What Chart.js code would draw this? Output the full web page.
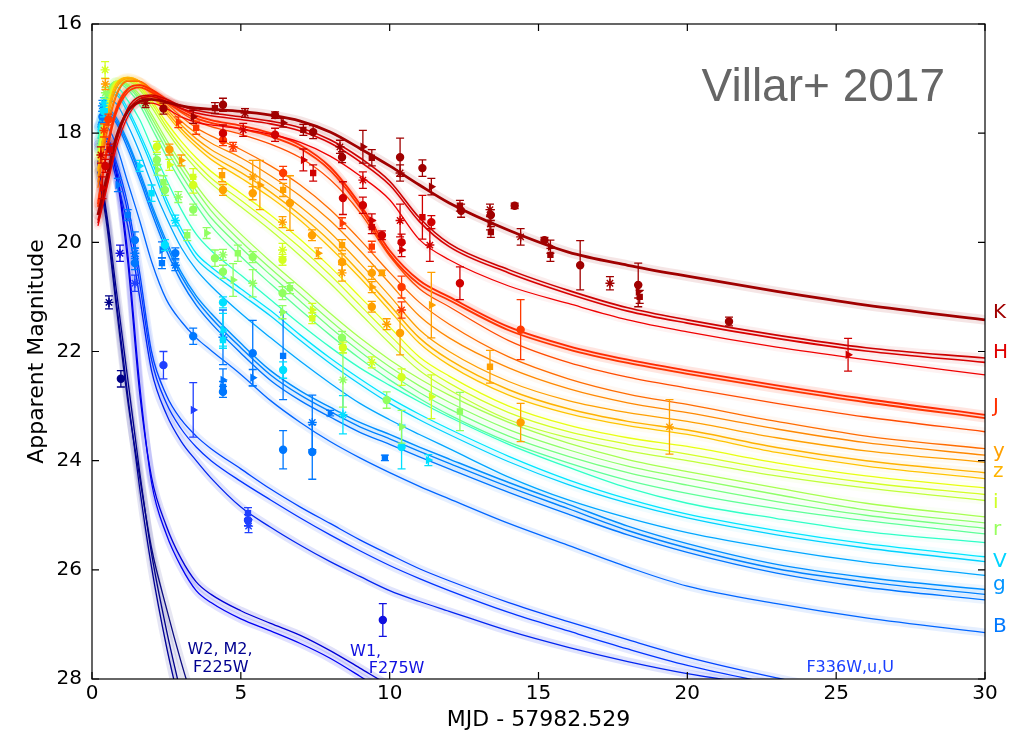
<!DOCTYPE html>
<html><head><meta charset="utf-8">
<script src="https://cdn.jsdelivr.net/npm/chart.js@4.4.1/dist/chart.umd.min.js"></script>
<style>html,body{margin:0;padding:0;background:#fff}canvas{display:block}</style>
</head><body>
<canvas id="c" width="1018" height="736"></canvas>
<script>
// ---- model curve sample times (days) ----
const X = [0.2,0.5,0.8,1.2,1.6,2.0,2.5,3,3.5,4,5,6,7,8,9,10,11,12,14,16,18,20,23,26,30];
// ---- model magnitudes ----
const K   = [19.5,18.8,18.1,17.6,17.42,17.38,17.43,17.5,17.54,17.56,17.6,17.67,17.78,17.98,18.28,18.6,18.95,19.28,19.78,20.18,20.42,20.62,20.9,21.15,21.42];
const H_a = [19.6,18.9,18.15,17.55,17.33,17.3,17.38,17.5,17.58,17.63,17.7,17.78,17.9,18.12,18.45,18.88,19.55,20.02,20.5,20.88,21.2,21.42,21.7,21.93,22.12];
const H_b = [19.65,18.95,18.2,17.6,17.37,17.33,17.42,17.55,17.63,17.68,17.75,17.83,17.96,18.18,18.52,18.95,19.62,20.08,20.56,20.94,21.26,21.48,21.76,21.99,22.2];
const H_c = [19.7,19.0,18.3,17.7,17.45,17.45,17.55,17.7,17.8,17.85,17.92,18.02,18.17,18.42,18.78,19.22,19.95,20.32,20.8,21.12,21.42,21.64,21.92,22.15,22.43];
const J_a = [19.3,18.3,17.6,17.2,17.12,17.2,17.38,17.55,17.68,17.76,17.86,18.0,18.22,18.62,19.3,20.15,20.7,21.0,21.55,21.9,22.15,22.35,22.62,22.87,23.16];
const J_b = [19.35,18.35,17.65,17.25,17.16,17.25,17.43,17.6,17.73,17.81,17.92,18.06,18.28,18.68,19.36,20.22,20.77,21.06,21.61,21.96,22.21,22.41,22.68,22.93,23.22];
const J_c = [19.25,18.25,17.55,17.18,17.12,17.22,17.42,17.62,17.78,17.88,18.02,18.2,18.45,18.85,19.45,20.25,20.85,21.18,21.8,22.2,22.47,22.67,22.95,23.2,23.47];
const O1  = [19.0,18.0,17.35,17.05,17.05,17.2,17.45,17.7,17.9,18.05,18.3,18.6,18.95,19.4,19.95,20.55,21.1,21.5,22.1,22.5,22.78,22.97,23.28,23.55,23.78];
const O2  = [18.9,17.9,17.3,17.03,17.05,17.22,17.5,17.78,18.0,18.18,18.45,18.78,19.15,19.6,20.15,20.75,21.35,21.75,22.3,22.68,22.94,23.12,23.42,23.67,23.9];
const O3  = [18.8,17.8,17.2,17.0,17.05,17.25,17.55,17.85,18.1,18.3,18.6,18.95,19.35,19.82,20.38,20.98,21.6,22.0,22.55,22.9,23.12,23.28,23.58,23.82,24.03];
const O4  = [18.7,17.7,17.15,16.98,17.05,17.28,17.6,17.92,18.18,18.4,18.72,19.08,19.5,19.98,20.55,21.15,21.75,22.15,22.7,23.05,23.28,23.44,23.76,24.0,24.22];
const O5  = [18.65,17.65,17.1,16.98,17.06,17.3,17.65,17.98,18.25,18.48,18.82,19.18,19.6,20.1,20.65,21.25,21.85,22.25,22.8,23.14,23.36,23.52,23.85,24.1,24.33];
const Y1  = [18.5,17.55,17.08,17.0,17.12,17.4,17.8,18.15,18.45,18.7,19.1,19.5,19.95,20.45,21.0,21.55,22.1,22.45,23.0,23.35,23.58,23.74,24.04,24.28,24.5];
const Y2  = [18.45,17.5,17.06,17.02,17.16,17.45,17.88,18.25,18.55,18.82,19.23,19.65,20.1,20.6,21.15,21.7,22.22,22.58,23.12,23.47,23.7,23.88,24.17,24.4,24.62];
const Y3  = [18.4,17.45,17.05,17.05,17.2,17.52,17.95,18.33,18.65,18.92,19.35,19.78,20.25,20.75,21.3,21.85,22.35,22.7,23.25,23.58,23.82,24.0,24.28,24.5,24.73];
const G1  = [18.4,17.4,17.05,17.1,17.3,17.65,18.12,18.55,18.95,19.3,19.85,20.35,20.82,21.3,21.75,22.15,22.5,22.8,23.3,23.68,23.98,24.2,24.5,24.78,25.03];
const G2  = [18.35,17.35,17.05,17.12,17.35,17.72,18.2,18.65,19.05,19.42,19.98,20.48,20.95,21.43,21.88,22.28,22.63,22.93,23.43,23.8,24.1,24.32,24.62,24.9,25.14];
const G3  = [18.3,17.3,17.05,17.15,17.4,17.8,18.3,18.76,19.18,19.55,20.1,20.6,21.08,21.56,22.0,22.4,22.75,23.05,23.55,23.92,24.22,24.45,24.75,25.0,25.24];
const G4  = [18.25,17.28,17.06,17.2,17.48,17.9,18.42,18.9,19.32,19.7,20.26,20.76,21.24,21.7,22.13,22.52,22.86,23.16,23.66,24.04,24.36,24.6,24.88,25.1,25.34];
const T1  = [18.1,17.3,17.15,17.4,17.75,18.25,18.85,19.4,19.85,20.15,20.6,21.05,21.5,21.92,22.3,22.62,22.92,23.2,23.7,24.12,24.5,24.78,25.06,25.3,25.5];
const C1  = [18.0,17.28,17.25,17.55,18.0,18.5,19.2,19.75,20.2,20.45,20.85,21.25,21.7,22.12,22.5,22.85,23.15,23.42,23.92,24.35,24.7,24.98,25.28,25.52,25.76];
const C2  = [17.95,17.3,17.3,17.62,18.08,18.6,19.3,19.85,20.3,20.55,20.95,21.35,21.8,22.22,22.6,22.95,23.25,23.52,24.02,24.44,24.78,25.05,25.36,25.6,25.85];
const Bl1 = [17.9,17.4,17.45,17.85,18.35,18.92,19.55,20.1,20.5,20.8,21.3,21.75,22.18,22.58,22.95,23.25,23.52,23.78,24.3,24.72,25.05,25.32,25.62,25.86,26.1];
const Bl2 = [17.85,17.55,17.7,18.15,18.7,19.3,19.98,20.55,20.98,21.3,21.85,22.35,22.72,23.02,23.3,23.52,23.75,23.97,24.4,24.8,25.2,25.52,25.9,26.14,26.36];
const Bl3 = [17.88,17.6,17.75,18.2,18.76,19.36,20.05,20.62,21.05,21.38,21.93,22.43,22.8,23.1,23.38,23.6,23.83,24.05,24.48,24.88,25.28,25.6,25.98,26.22,26.45];
const Bl4 = [17.9,17.65,17.8,18.28,18.84,19.45,20.15,20.72,21.15,21.48,22.03,22.53,22.9,23.2,23.48,23.7,23.93,24.15,24.58,24.98,25.36,25.68,26.06,26.32,26.55];
const Bm  = [18.1,17.9,18.2,18.9,19.6,20.35,21.05,21.45,21.75,21.98,22.42,22.9,23.3,23.65,23.95,24.22,24.47,24.7,25.15,25.55,25.95,26.3,26.62,26.88,27.15];
const U1  = [18.15,18.1,18.5,19.3,20.55,22.0,22.8,23.25,23.55,23.78,24.15,24.52,24.85,25.15,25.45,25.72,25.98,26.2,26.6,26.95,27.28,27.6,27.98,28.3,28.7];
const U2  = [18.2,18.15,18.6,19.45,20.75,22.15,22.95,23.42,23.75,24.0,24.38,24.72,25.05,25.36,25.65,25.92,26.16,26.38,26.78,27.12,27.45,27.75,28.1,28.4,28.8];
const U3  = [18.3,18.3,18.8,19.7,21.0,22.35,23.15,23.65,24.0,24.32,24.85,25.22,25.55,25.85,26.12,26.38,26.58,26.76,27.12,27.42,27.68,27.9,28.15,28.4,28.7];
const W1a = [18.2,18.1,18.6,20.2,22.6,24.4,25.35,25.95,26.38,26.6,26.9,27.12,27.35,27.62,27.95,28.3,null,null,null,null,null,null,null,null,null];
const W1b = [18.25,18.15,18.7,20.35,22.75,24.3,25.2,25.8,26.22,26.45,26.75,26.98,27.2,27.48,27.8,28.12,28.4,null,null,null,null,null,null,null,null];
const W2a = [18.5,19.5,20.8,22.5,24.2,25.7,27.1,28.3,null,null,null,null,null,null,null,null,null,null,null,null,null,null,null,null,null];
const W2b = [18.55,19.6,21.0,22.8,24.5,25.95,27.4,28.6,null,null,null,null,null,null,null,null,null,null,null,null,null,null,null,null,null];
const W2c = [18.7,19.7,21.1,22.9,24.3,25.6,26.7,27.7,28.6,null,null,null,null,null,null,null,null,null,null,null,null,null,null,null,null];

// ---- photometry [day, mag, error] ----
const ptsK = [[1.8,17.45,0.08],[2.4,17.55,0.1],[3.4,17.7,0.12],[4.13,17.54,0.1],[4.4,17.48,0.12],[5.14,17.63,0.08],[6.15,17.67,0.06],[6.42,17.81,0.08],[7.1,17.94,0.1],[7.43,17.98,0.12],[8.33,18.25,0.12],[8.4,18.44,0.1],[9.1,18.25,0.3],[9.4,18.45,0.15],[10.35,18.44,0.35],[10.35,18.73,0.15],[11.1,18.64,0.15],[11.4,18.98,0.15],[12.36,19.33,0.1],[12.4,19.42,0.12],[13.37,19.4,0.1],[13.4,19.5,0.1],[13.37,19.65,0.12],[13.4,19.81,0.1],[14.2,19.33,0.05],[14.4,19.9,0.15],[15.2,19.96,0.05],[15.4,20.08,0.12],[15.4,20.23,0.12],[16.4,20.42,0.45],[17.4,20.75,0.12],[18.35,20.78,0.4],[18.35,20.9,0.12],[18.4,21.0,0.12],[21.4,21.45,0.08]];
const ptsH = [[0.3,18.4,0.15],[0.45,18.6,0.12],[0.35,19.0,0.2],[0.6,18.3,0.1],[4.4,18.0,0.15],[5.08,17.94,0.12],[6.15,18.03,0.12],[7.1,18.49,0.2],[7.43,18.73,0.15],[8.43,19.19,0.3],[9.1,18.86,0.15],[9.1,19.32,0.15],[9.4,19.6,0.12],[9.4,19.72,0.12],[9.74,19.87,0.08],[10.35,19.6,0.3],[10.4,20.0,0.15],[10.4,20.14,0.12],[11.1,19.54,0.4],[11.4,19.63,0.12],[11.35,20.05,0.3],[12.36,20.75,0.3],[25.4,22.06,0.3]];
const ptsJ = [[0.4,17.95,0.12],[0.55,17.75,0.1],[2.9,17.8,0.1],[3.5,17.9,0.12],[4.4,18.13,0.1],[4.74,18.25,0.08],[6.42,18.73,0.12],[8.4,19.65,0.1],[9.4,20.08,0.1],[10.4,20.82,0.2],[10.4,21.24,0.15],[14.4,21.6,0.55]];
const ptsO = [[0.45,17.1,0.1],[2.6,18.3,0.1],[3.0,18.5,0.1],[4.37,18.77,0.12],[4.4,19.04,0.1],[5.4,18.8,0.3],[5.4,19.1,0.12],[5.64,18.95,0.45],[6.42,19.04,0.12],[6.65,19.28,0.5],[6.4,19.63,0.1],[7.39,19.87,0.1],[7.6,20.2,0.1],[8.4,20.05,0.1],[8.4,20.36,0.15],[8.4,20.56,0.15],[9.4,20.56,0.12],[9.4,20.82,0.1],[9.74,20.56,0.05],[9.4,21.18,0.1],[9.9,21.5,0.1],[10.35,21.66,0.4],[11.4,21.15,0.6],[13.37,22.28,0.3],[14.4,23.3,0.35],[19.4,23.38,0.5]];
const ptsY = [[0.44,16.84,0.15],[2.18,18.25,0.1],[2.6,18.58,0.1],[3.4,18.8,0.15],[3.4,18.95,0.15],[6.4,20.14,0.12],[6.4,20.32,0.1],[7.4,21.24,0.12],[7.4,21.39,0.1],[8.43,21.93,0.1],[9.4,22.2,0.1],[10.4,22.47,0.15],[11.4,22.83,0.4]];
const ptsG = [[0.45,17.26,0.1],[2.18,18.49,0.1],[2.2,18.67,0.1],[2.4,18.9,0.12],[2.45,19.04,0.1],[2.9,19.17,0.1],[3.4,19.4,0.1],[3.85,19.83,0.1],[3.2,19.87,0.1],[4.13,20.29,0.15],[4.4,20.23,0.1],[4.4,20.54,0.12],[4.74,20.69,0.3],[4.9,20.2,0.15],[5.4,20.27,0.1],[5.4,20.75,0.25],[6.4,20.93,0.12],[6.4,21.28,0.12],[6.65,20.84,0.1],[8.4,21.75,0.12],[8.43,22.52,0.5],[9.9,22.89,0.15],[10.4,23.38,0.3],[12.36,23.1,0.35]];
const ptsC = [[0.4,17.45,0.1],[0.4,17.6,0.1],[1.6,18.6,0.1],[2.0,19.1,0.15],[2.45,20.05,0.1],[2.8,19.6,0.1],[4.4,21.1,0.1],[4.4,21.6,0.3],[4.4,21.79,0.15],[6.42,22.34,0.15],[8.43,23.16,0.35],[10.4,23.75,0.4],[11.3,23.99,0.1]];
const ptsBl = [[0.35,17.5,0.1],[0.35,17.7,0.1],[0.87,18.95,0.12],[1.2,19.5,0.1],[1.44,19.96,0.15],[1.44,20.2,0.1],[1.44,20.38,0.12],[2.35,20.14,0.15],[2.35,20.38,0.1],[2.8,20.2,0.1],[2.8,20.42,0.1],[3.4,21.72,0.15],[4.4,22.52,0.2],[4.4,22.65,0.1],[4.4,22.74,0.1],[4.4,21.74,0.5],[5.4,22.03,0.6],[5.4,22.48,0.15],[6.42,22.08,0.8],[6.42,23.8,0.35],[7.4,23.3,0.5],[7.4,23.84,0.5],[8.0,23.13,0.05],[9.84,23.95,0.05]];
const ptsU = [[1.44,20.75,0.15],[2.4,22.25,0.25],[3.4,23.07,0.5],[5.24,24.96,0.1],[5.24,25.09,0.1],[5.26,25.2,0.12]];
const ptsW1 = [[0.94,20.2,0.15],[9.77,26.92,0.3]];
const ptsW2 = [[0.57,21.1,0.12],[0.97,22.5,0.15]];

// ---- texts ----
const bandNames = ['K','H','J','y','z','i','r','V','g','B'];
const bandMags  = [21.29,22.03,23.02,23.84,24.2,24.77,25.27,25.86,26.28,27.05];
const bandColors = ['#a00000','#e00000','#ff3000','#ffa000','#ffb400','#d0ff28','#98ff5e','#00d4ff','#0094ff','#0078ff'];
const uvTexts = [['W2, M2,',4.3,27.47,'#000090','center'],['F225W',4.33,27.8,'#000090','center'],['W1,',8.67,27.5,'#1010e0','left'],['F275W',9.3,27.82,'#1010e0','left'],['F336W,u,U',24.0,27.8,'#1a40ff','left']];

const curveTable = [
 [K,'#a00000',2.8,0.10],[H_a,'#cc0000',1.6,0.07],[H_b,'#d80000',1.6,0.07],[H_c,'#f00000',1.3,0.05],
 [J_a,'#ff2a00',1.8,0.12],[J_b,'#ff3400',1.8,0.12],[J_c,'#ff4c00',1.3,0.05],
 [O1,'#ff6c00',1.3,0.05],[O2,'#ff8800',1.3,0.05],[O3,'#ffa000',1.3,0.05],[O4,'#ffb200',1.5,0.08],[O5,'#ffc400',1.3,0.05],
 [Y1,'#e8ff10',1.3,0.06],[Y2,'#d4ff24',1.3,0.06],[Y3,'#c0ff38',1.3,0.06],
 [G1,'#a6ff50',1.3,0.05],[G2,'#8eff68',1.3,0.05],[G3,'#76ff80',1.3,0.05],[G4,'#5eff98',1.3,0.05],
 [T1,'#30ffc6',1.3,0.05],[C1,'#00e6ff',1.3,0.06],[C2,'#00d2ff',1.3,0.06],
 [Bl1,'#00a6ff',1.3,0.06],[Bl2,'#008eff',1.4,0.08],[Bl3,'#0082ff',1.4,0.08],[Bl4,'#0076ff',1.4,0.08],[Bm,'#0066ff',1.3,0.10],
 [U1,'#0044ff',1.3,0.10],[U2,'#0034ff',1.3,0.10],[U3,'#0024f0',1.3,0.12],
 [W1a,'#0000f4',1.3,0.12],[W1b,'#0000d8',1.3,0.12],
 [W2a,'#00008a',1.3,0.10],[W2b,'#000096',1.3,0.10],[W2c,'#0a0a80',1.3,0.10]
];
const pointTable = [[ptsK,'#a00000'],[ptsH,'#d00000'],[ptsJ,'#ff3a00'],[ptsO,'#ffa000'],[ptsY,'#d4ff20'],[ptsG,'#90ff60'],[ptsC,'#00e0ff'],[ptsBl,'#0078ff'],[ptsU,'#2040ff'],[ptsW1,'#1010e0'],[ptsW2,'#000088']];

function rgba(hex,a){const n=parseInt(hex.slice(1),16);return `rgba(${n>>16&255},${n>>8&255},${n&255},${a})`;}
function toXY(vals){const out=[];vals.forEach((v,i)=>{if(v!==null)out.push({x:X[i],y:v});});return out;}

const datasets=[];
curveTable.forEach(([vals,col,w,ba])=>{
  datasets.push({type:'line',data:toXY(vals),borderColor:rgba(col,ba),borderWidth:w+7,pointRadius:0,fill:false,cubicInterpolationMode:'monotone',order:20,borderCapStyle:'round',borderJoinStyle:'round'});
  datasets.push({type:'line',data:toXY(vals),borderColor:col,borderWidth:w,pointRadius:0,fill:false,cubicInterpolationMode:'monotone',order:10,borderJoinStyle:'round'});
});
const SHAPES=['star','circle','triangle','rect','circle'];
pointTable.forEach(([arr,col])=>{
  datasets.push({type:'scatter',data:arr.map(p=>({x:p[0],y:p[1]})),errs:arr.map(p=>p[2]),
    backgroundColor:col,borderColor:col,pointBorderWidth:1.4,
    pointRadius:c=>SHAPES[c.dataIndex%SHAPES.length]==='star'?4.5:3.5,
    pointStyle:c=>SHAPES[c.dataIndex%SHAPES.length],
    pointRotation:c=>SHAPES[c.dataIndex%SHAPES.length]==='triangle'?90:0,
    showLine:false,order:0});
});

const errPlugin={id:'err',beforeDatasetDraw(chart,args){
  const ds=chart.data.datasets[args.index]; if(!ds.errs)return;
  const {ctx,scales:{x,y},chartArea:a}=chart;
  ctx.save();ctx.beginPath();ctx.rect(a.left,a.top,a.right-a.left,a.bottom-a.top);ctx.clip();
  ctx.strokeStyle=ds.borderColor;ctx.lineWidth=1.3;
  ds.data.forEach((p,i)=>{const px=x.getPixelForValue(p.x),y1=y.getPixelForValue(p.y-ds.errs[i]),y2=y.getPixelForValue(p.y+ds.errs[i]);
    ctx.beginPath();ctx.moveTo(px,y1);ctx.lineTo(px,y2);ctx.moveTo(px-4,y1);ctx.lineTo(px+4,y1);ctx.moveTo(px-4,y2);ctx.lineTo(px+4,y2);ctx.stroke();});
  ctx.restore();}};

const framePlugin={id:'frame',afterDraw(chart){
  const {ctx,scales:{x,y},chartArea:a}=chart;
  ctx.save();ctx.strokeStyle='#000';ctx.lineWidth=1.2;
  ctx.strokeRect(a.left,a.top,a.right-a.left,a.bottom-a.top);
  ctx.beginPath();
  x.ticks.forEach(t=>{const px=x.getPixelForValue(t.value);ctx.moveTo(px,a.bottom);ctx.lineTo(px,a.bottom-7);ctx.moveTo(px,a.top);ctx.lineTo(px,a.top+7);});
  y.ticks.forEach(t=>{const py=y.getPixelForValue(t.value);ctx.moveTo(a.left,py);ctx.lineTo(a.left+7,py);ctx.moveTo(a.right,py);ctx.lineTo(a.right-7,py);});
  ctx.stroke();ctx.restore();}};

const textPlugin={id:'texts',afterDatasetsDraw(chart){
  const {ctx,scales:{x,y},chartArea:a}=chart;
  ctx.save();
  ctx.font='46px "Liberation Sans", Arial, sans-serif';ctx.fillStyle='#666666';ctx.textAlign='right';ctx.textBaseline='alphabetic';
  ctx.fillText('Villar+ 2017',a.right-40,a.top+77);
  ctx.font='20px "DejaVu Sans"';ctx.textAlign='left';ctx.textBaseline='middle';
  bandNames.forEach((n,i)=>{ctx.fillStyle=bandColors[i];ctx.fillText(n,a.right+8,y.getPixelForValue(bandMags[i]));});
  ctx.font='16px "DejaVu Sans"';
  uvTexts.forEach(([t,dx,dy,col,al])=>{ctx.fillStyle=col;ctx.textAlign=al;ctx.fillText(t,x.getPixelForValue(dx),y.getPixelForValue(dy));});
  ctx.restore();}};

const F={family:'"DejaVu Sans"',size:20};
const FT={family:'"DejaVu Sans"',size:22};
new Chart(document.getElementById('c'),{
  data:{datasets},
  options:{responsive:false,animation:false,devicePixelRatio:1,
    layout:{padding:{top:24,right:33,left:0,bottom:0}},
    plugins:{legend:{display:false},tooltip:{enabled:false}},
    scales:{
      x:{type:'linear',min:0,max:30,ticks:{stepSize:5,font:F,color:'#000',padding:3,maxRotation:0},
        grid:{display:false,drawTicks:false},border:{display:false},
        title:{display:true,text:'MJD - 57982.529',font:FT,color:'#000',padding:{top:0,bottom:3}},
        afterFit(s){s.height=57;}},
      y:{type:'linear',min:16,max:28,reverse:true,ticks:{stepSize:2,font:F,color:'#000',padding:10},
        grid:{display:false,drawTicks:false},border:{display:false},
        title:{display:true,text:'Apparent Magnitude',font:FT,color:'#000',padding:{top:24,bottom:0}},
        afterFit(s){s.width=92;}}
    }},
  plugins:[errPlugin,framePlugin,textPlugin]
});
</script>
</body></html>
